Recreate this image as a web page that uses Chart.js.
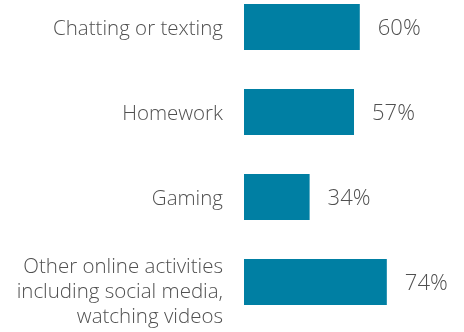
<!DOCTYPE html>
<html lang="en">

<head>
    <meta charset="UTF-8">
    <meta name="viewport" content="width=device-width, initial-scale=1.0">
    <title>Online activities</title>
    <script src="https://cdn.jsdelivr.net/npm/chart.js"></script>
    <style>
        html, body { margin: 0; padding: 0; background: #fff; }
        #wrap { width: 464px; height: 332px; }
    </style>
</head>

<body>
    <div id="wrap"><canvas id="activityChart"></canvas></div>
</body>
<script>
    // Categories (multi-line labels as arrays) and their shares in percent
    const categories = [
        "Chatting or texting",
        "Homework",
        "Gaming",
        ["Other online activities", "including social media,", "watching videos"],
    ];
    const shares = [60, 57, 34, 74];

    const barColor = "#007fa3";
    const textColor = "#505050";
    const fontFamily = '"Open Sans", sans-serif';

    // Category names on the left and value labels after each bar
    const labelPlugin = {
        id: "barLabels",
        afterDatasetsDraw(chart) {
            const { ctx, chartArea, scales } = chart;
            const meta = chart.getDatasetMeta(0);
            const lineH = 25;
            ctx.save();
            ctx.fillStyle = textColor;
            ctx.textBaseline = "middle";

            ctx.font = "300 20.5px " + fontFamily;
            ctx.textAlign = "right";
            categories.forEach((label, i) => {
                const lines = [].concat(label);
                const cy = scales.y.getPixelForValue(i) + 2;
                // wrapped labels sit a little lower than the bar centre
                const top = cy - (lines.length - 1) * lineH / 2 + (lines.length > 1 ? 8 : 0);
                lines.forEach((ln, k) => ctx.fillText(ln, chartArea.left - 21, top + k * lineH));
            });

            ctx.font = "300 22px " + fontFamily;
            ctx.textAlign = "left";
            meta.data.forEach((bar, i) => {
                ctx.fillText(shares[i] + "%", bar.x + 18, bar.y + 2);
            });
            ctx.restore();
        }
    };

    new Chart(document.getElementById("activityChart"), {
        type: "bar",
        data: {
            labels: categories,
            datasets: [{
                data: shares,
                backgroundColor: barColor,
                borderWidth: 0,
                categoryPercentage: 1,
                barPercentage: 0.541,
                clip: false,
            }],
        },
        options: {
            indexAxis: "y",
            responsive: true,
            maintainAspectRatio: false,
            animation: false,
            layout: { padding: { top: 27, bottom: 50, left: 244, right: 27 } },
            plugins: { legend: { display: false }, tooltip: { enabled: false } },
            scales: {
                x: { min: 0, max: 100, display: false },
                y: { offset: false, display: false },
            },
        },
        plugins: [labelPlugin],
    });
</script>

</html>
